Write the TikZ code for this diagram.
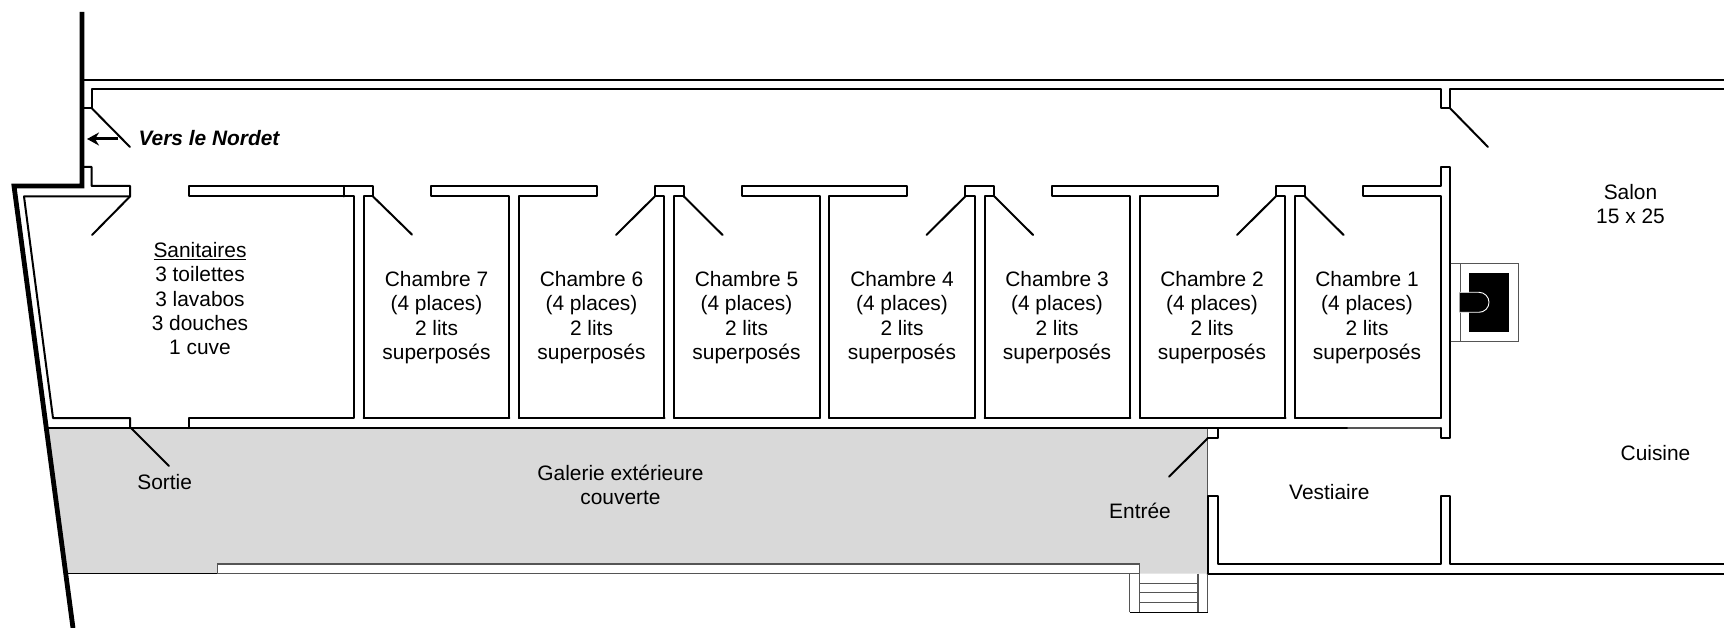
\documentclass[tikz,border=0pt]{standalone}
\usepackage{fontspec}
\setmainfont{Liberation Sans}
\usetikzlibrary{arrows.meta}
\definecolor{galerie}{HTML}{D9D9D9}
\definecolor{edgegray}{HTML}{555555}
\tikzset{
  wall/.style={draw=black,line width=2pt,line join=round,line cap=round},
  door/.style={draw=black,line width=2pt,line cap=round},
  heavy/.style={draw=black,line width=4.8pt,line join=miter},
  thin wall/.style={draw=edgegray,line width=1.2pt},
  lbl/.style={font=\fontsize{20.9}{24.3}\selectfont,align=center,inner sep=0pt,text=black}
}
\begin{document}
\begin{tikzpicture}[x=1pt,y=-1pt]
\useasboundingbox (0,0) rectangle (1724,628);
% gallery
\fill[galerie] (46,428) -- (1207.7,428) -- (1207.7,573.7) -- (66,573.7) -- cycle;
\draw[line width=1.3pt] (66,573.7) -- (218,573.7);
\draw[thin wall,fill=white] (217.7,573.7) rectangle (1139.7,564);
% outer walls
\draw[wall] (84,80) -- (1724,80);
\draw[wall] (1724,89.5) -- (1450.3,89.5) -- (1450.3,108.5) -- (1441,108.5) -- (1441,89.5) -- (92,89.5) -- (92,108.5) -- (84,108.5);
\draw[wall] (84,167) -- (91.5,167) -- (91.5,186) -- (130,186) -- (130,196.5) -- (24,196.5) -- (53,418) -- (130,418) -- (130,428);
\draw[wall] (48,428) -- (1348,428);
\draw[wall,line width=1.5pt,draw=edgegray] (1348,428) -- (1441,428);
% sanitaires east wall, chamber 7 west wall
\draw[wall] (189,428) -- (189,418) -- (354,418) -- (354,196.5) -- (189,196.5) -- (189,186) -- (373,186) -- (373,196.5) -- (363.7,196.5) -- (363.7,418);
\draw[wall] (344,186) -- (344,196.5);
% partition blocks with a long wall
\foreach \c in {514,824.5,1135}{
  \draw[wall] ({\c-4.85},418) -- ({\c-4.85},196.5) -- ({\c-82.7},196.5) -- ({\c-82.7},186) -- ({\c+82.7},186) -- ({\c+82.7},196.5) -- ({\c+4.85},196.5) -- ({\c+4.85},418);
}
% partition blocks with two doors
\foreach \c in {669.3,979.8,1290.3}{
  \draw[wall] ({\c-4.85},418) -- ({\c-4.85},196.5) -- ({\c-14.6},196.5) -- ({\c-14.6},186) -- ({\c+14.6},186) -- ({\c+14.6},196.5) -- ({\c+4.85},196.5) -- ({\c+4.85},418);
  \draw[door] ({\c-14.6},196.5) -- ++(-38.7,38.5);
  \draw[door] ({\c+14.6},196.5) -- ++(38.7,38.5);
}
% room floors
\foreach \l in {363.7,518.9,674.2,829.4,984.7,1140,1295.2}{
  \draw[wall] (\l,418) -- ({\l+145.6},418);
}
% east wall of chamber 1
\draw[wall] (1441,418) -- (1441,196.5) -- (1362.7,196.5) -- (1362.7,186) -- (1441,186) -- (1441,167) -- (1450.3,167) -- (1450.3,438.3) -- (1441,438.3) -- (1441,428);
% vestiaire
\draw[thin wall,line width=1pt] (1207.7,428) -- (1207.7,496);
\draw[wall] (1207.7,573.7) -- (1207.7,496) -- (1217.7,496) -- (1217.7,564) -- (1440.7,564) -- (1440.7,496) -- (1450.3,496) -- (1450.3,564) -- (1724,564);
\draw[wall] (1207.7,573.7) -- (1724,573.7);
\draw[wall] (1207.7,428.3) -- (1217.7,428.3) -- (1217.7,438.3) -- (1207.7,438.3);
% doors
\draw[door] (92,108.5) -- (130,147);
\draw[door] (130,196.5) -- (92,235);
\draw[door] (373,196.5) -- (412,234.6);
\draw[door] (1450.3,108.5) -- (1488,147);
\draw[door] (131,428) -- (169,466);
\draw[door] (1207.7,438.3) -- (1169,476.7);
% heavy outline
\draw[heavy] (82,12) -- (82,186) -- (14,186) -- (73,628);
% direction arrow
\coordinate (arrowstart) at (118,139);
\coordinate (arrowend) at (87,139);
\draw[line width=3pt,-{Stealth[length=12pt,width=13pt]}] (arrowstart) -- (arrowend);
% fireplace
\draw[edgegray,line width=1.1pt,fill=white] (1450.3,263.7) rectangle (1518.7,341.3);
\draw[edgegray,line width=1.1pt] (1460.3,263.7) -- (1460.3,341.3);
\fill[black] (1469,273) rectangle (1509,332.3);
\fill[black] (1459.5,292.3) -- (1479,292.3) .. controls (1484.5,292.3) and (1489,296.8) .. (1489,302.3) .. controls (1489,307.8) and (1484.5,312.3) .. (1479,312.3) -- (1459.5,312.3) -- cycle;
\draw[white,line width=0.9pt] (1460,292.3) -- (1479,292.3) .. controls (1484.5,292.3) and (1489,296.8) .. (1489,302.3) .. controls (1489,307.8) and (1484.5,312.3) .. (1479,312.3) -- (1460,312.3);
\draw[wall] (1450.3,263.7) -- (1450.3,341.3);
% stairs
\draw[edgegray,line width=1.3pt] (1129.7,573.7) -- (1129.7,612.3);
\draw[edgegray,line width=1.3pt] (1139.7,573.7) -- (1139.7,612.3);
\draw[edgegray,line width=1.3pt] (1198,573.7) -- (1198,612.3);
\draw[edgegray,line width=1.3pt] (1207.7,573.7) -- (1207.7,612.3);
\foreach \y in {583.3,592.7,602.7}{\draw[edgegray,line width=1.2pt] (1139.7,\y) -- (1198,\y);}
\draw[black,line width=1.4pt] (1129.7,612.3) -- (1207.7,612.3);
% labels
\node[lbl,font=\fontsize{20.9}{24.3}\selectfont\bfseries\itshape] (nordet) at (209,138) {Vers le Nordet};
\node[lbl] (sani) at (200,298.7) {\underline{Sanitaires}\\3 toilettes\\3 lavabos\\3 douches\\1 cuve};
\node[lbl] (ch7) at (436.5,317.7) {Chambre 7\\(4 places)\\2 lits\\superposés};
\node[lbl] (ch6) at (591.5,317.7) {Chambre 6\\(4 places)\\2 lits\\superposés};
\node[lbl] (ch5) at (746.5,317.7) {Chambre 5\\(4 places)\\2 lits\\superposés};
\node[lbl] (ch4) at (902,317.7) {Chambre 4\\(4 places)\\2 lits\\superposés};
\node[lbl] (ch3) at (1057,317.7) {Chambre 3\\(4 places)\\2 lits\\superposés};
\node[lbl] (ch2) at (1212,317.7) {Chambre 2\\(4 places)\\2 lits\\superposés};
\node[lbl] (ch1) at (1367,317.7) {Chambre 1\\(4 places)\\2 lits\\superposés};
\node[lbl] (salon) at (1630.5,204) {Salon\\15 x 25};
\node[lbl] (cuisine) at (1655.5,453) {Cuisine};
\node[lbl] (vest) at (1329.3,492) {Vestiaire};
\node[lbl] (entree) at (1140,510.5) {Entrée};
\node[lbl] (galerie) at (620.5,485) {Galerie extérieure\\couverte};
\node[lbl] (sortie) at (164.7,482) {Sortie};
\end{tikzpicture}
\end{document}
